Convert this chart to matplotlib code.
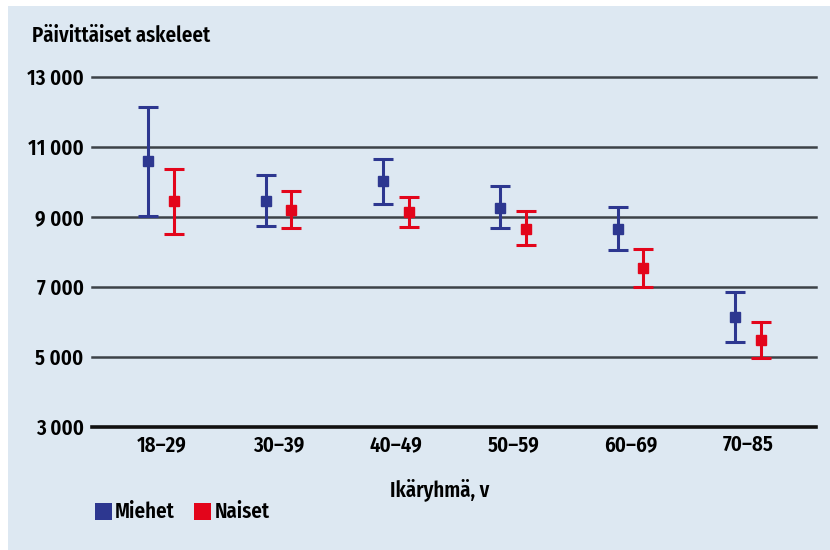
import numpy as np
import matplotlib
matplotlib.use("Agg")
import matplotlib.pyplot as plt
from matplotlib.patches import Rectangle

# age groups and daily step counts (mean with lower / upper interval)
groups = ["18–29", "30–39", "40–49", "50–59", "60–69", "70–85"]
men_mean = [10600, 9460, 10030, 9270, 8660, 6140]
men_low = [9030, 8740, 9380, 8680, 8050, 5420]
men_high = [12140, 10200, 10670, 9880, 9290, 6850]
women_mean = [9460, 9210, 9140, 8660, 7530, 5490]
women_low = [8510, 8680, 8700, 8200, 7010, 4960]
women_high = [10360, 9730, 9570, 9160, 8090, 6000]
yticks = [3000, 5000, 7000, 9000, 11000, 13000]
ytick_labels = ["3 000", "5 000", "7 000", "9 000", "11 000", "13 000"]

BG = "#dde8f2"
BLUE = "#2d3790"
RED = "#e3051b"
FONT = ["Fira Sans Condensed", "PT Sans Narrow", "Roboto Condensed",
        "Sofia Sans Condensed", "DejaVu Sans"]

plt.rcParams['font.family'] = FONT
plt.rcParams['font.weight'] = 'semibold'
FS = 15

W, H = 830, 550
fig = plt.figure(figsize=(W / 100, H / 100), dpi=100)
fig.patch.set_facecolor("white")
# light blue panel, white strip at top and left
fig.add_artist(Rectangle((8 / W, 0), 1, 1 - 6 / H, transform=fig.transFigure,
                         facecolor=BG, edgecolor="none", zorder=0))

ax = fig.add_axes([92 / W, 1 - 427 / H, (816 - 92) / W, 350 / H])
ax.set_facecolor("none")
for s in ax.spines.values():
    s.set_visible(False)

x = np.arange(len(groups))
off = 0.109
ax.set_xlim(-0.59, 5.58)
ax.set_ylim(3000, 13000)

for y in yticks[1:]:
    ax.axhline(y, color="#3c4248", lw=1.8, zorder=1, clip_on=False)
ax.axhline(3000, color="#111111", lw=2.6, zorder=1, clip_on=False)

def draw_series(xs, mean, low, high, color):
    mean = np.array(mean)
    err = [mean - np.array(low), np.array(high) - mean]
    ax.errorbar(xs, mean, yerr=err, fmt="s", color=color, ecolor=color,
                elinewidth=2.2, capsize=7, capthick=2.2, markersize=7.5,
                zorder=3, clip_on=False)

draw_series(x - off, men_mean, men_low, men_high, BLUE)
draw_series(x + off, women_mean, women_low, women_high, RED)

ax.set_yticks(yticks)
ax.set_yticklabels(ytick_labels)
ax.set_xticks(x)
ax.set_xticklabels(groups)
ax.tick_params(length=0, labelsize=FS, colors="black")
ax.tick_params(axis="y", pad=6)
ax.tick_params(axis="x", pad=5)

fig.text(32 / W, 1 - 36 / H, "Päivittäiset askeleet", fontsize=FS,
         ha="left", va="center")
fig.text(440 / W, 1 - 490 / H, "Ikäryhmä, v", fontsize=FS,
         ha="center", va="center")

# legend
for sx, tx, label, c in [(95, 115, "Miehet", BLUE), (194, 215, "Naiset", RED)]:
    fig.add_artist(Rectangle((sx / W, 1 - 520 / H), 17 / W, 17 / H,
                             transform=fig.transFigure, facecolor=c,
                             edgecolor="none"))
    fig.text(tx / W, 1 - 512 / H, label, fontsize=FS, ha="left", va="center")

fig.savefig("out.png", dpi=100, facecolor=fig.get_facecolor())
